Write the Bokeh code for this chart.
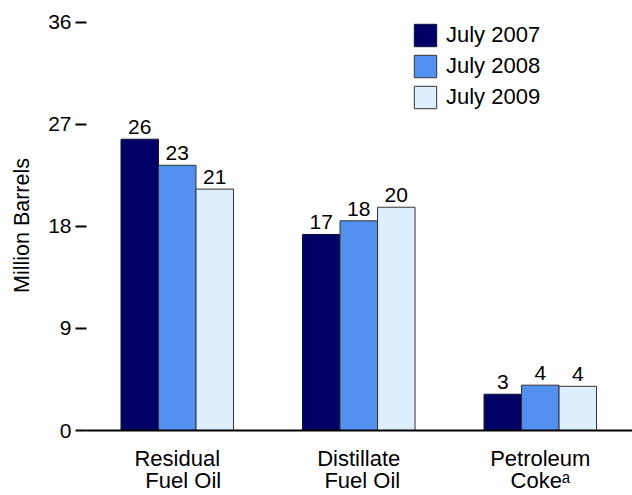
from bokeh.plotting import figure
from bokeh.models import FixedTicker, Legend, LegendItem, Range1d, ColumnDataSource, LinearAxis
from bokeh.embed import file_html
from bokeh.resources import INLINE
from bokeh.core.properties import value

# ---- data ----
label_line1 = ["Residual", "Distillate", "Petroleum"]
label_line2 = ["Fuel Oil", "Fuel Oil", "Coke\u1d43"]
series_names = ["July 2007", "July 2008", "July 2009"]
july_2007 = [25.7, 17.3, 3.2]
july_2008 = [23.4, 18.5, 4.0]
july_2009 = [21.3, 19.7, 3.9]
y_ticks = [0, 9, 18, 27, 36]

# ---- style ----
FONT = "Liberation Sans"
colors = ["#000066", "#5291EF", "#DDEEFD"]
outline = ["#111133", "#333333", "#333333"]
bar_w = 0.2066
offsets = [-bar_w, 0.0, bar_w]
px_per_unit = 181.5
line2_shift_px = [6, 3.5, 0]

p = figure(width=632, height=495, output_backend="svg", toolbar_location=None,
           x_range=Range1d(0, 3.008), y_range=Range1d(0, 36.176),
           min_border_left=86, min_border_right=0, min_border_top=20,
           min_border_bottom=64)
p.outline_line_color = None
p.grid.visible = False
p.background_fill_color = "white"

n = len(label_line1)
series = [july_2007, july_2008, july_2009]
items = []
for i, vals in enumerate(series):
    src = ColumnDataSource(dict(
        x=[k + 0.5 + offsets[i] for k in range(n)],
        top=vals,
        label=[str(round(v)) for v in vals],
    ))
    r = p.vbar(x="x", top="top", bottom=0, width=bar_w, source=src,
               fill_color=colors[i], line_color=outline[i], line_width=1)
    p.text(x="x", y="top", text="label", source=src, text_align="center",
           text_baseline="bottom", y_offset=-5, text_font=value(FONT),
           text_font_size="21px", text_color="black")
    items.append(LegendItem(label=series_names[i], renderers=[r]))

legend = Legend(items=items, location=(325, 319), glyph_width=28, glyph_height=28,
                label_height=22, spacing=3, padding=0, margin=0, label_standoff=7,
                border_line_color=None, background_fill_alpha=0,
                label_text_font=FONT, label_text_font_size="22px",
                label_text_color="black")
p.add_layout(legend)

# y axis
p.yaxis.ticker = FixedTicker(ticks=y_ticks)
p.yaxis.axis_line_color = None
p.yaxis.major_tick_in = 0
p.yaxis.major_tick_out = 11
p.yaxis.major_tick_line_width = 2
p.yaxis.major_tick_line_color = "black"
p.yaxis.minor_tick_line_color = None
p.yaxis.major_label_standoff = 4
p.yaxis.major_label_text_font = FONT
p.yaxis.major_label_text_font_size = "21px"
p.yaxis.major_label_text_color = "black"
p.yaxis.axis_label = "Million Barrels"
p.yaxis.axis_label_text_font = FONT
p.yaxis.axis_label_text_font_style = "normal"
p.yaxis.axis_label_text_font_size = "21.5px"
p.yaxis.axis_label_text_color = "black"
p.yaxis.axis_label_standoff = 11

# x axis: baseline + first line of category labels
ticks1 = [k + 0.5 for k in range(n)]
p.xaxis.ticker = FixedTicker(ticks=ticks1)
p.xaxis.major_label_overrides = {t: s for t, s in zip(ticks1, label_line1)}
p.xaxis.axis_line_width = 2
p.xaxis.axis_line_color = "black"
p.xaxis.major_tick_line_color = None
p.xaxis.major_tick_out = 0
p.xaxis.major_tick_in = 0
p.xaxis.minor_tick_line_color = None
p.xaxis.major_label_standoff = 15
p.xaxis.major_label_text_font = FONT
p.xaxis.major_label_text_font_size = "22px"
p.xaxis.major_label_text_color = "black"

# second line of category labels
ticks2 = [k + 0.5 + line2_shift_px[k] / px_per_unit for k in range(n)]
ax2 = LinearAxis(ticker=FixedTicker(ticks=ticks2),
                 major_label_overrides={t: s for t, s in zip(ticks2, label_line2)},
                 axis_line_color=None, major_tick_line_color=None,
                 minor_tick_line_color=None, major_tick_out=0, major_tick_in=0,
                 major_label_standoff=-6, major_label_text_font=FONT,
                 major_label_text_font_size="22px",
                 major_label_text_color="black")
p.add_layout(ax2, "below")

open("out.html", "w").write(file_html(p, INLINE))
